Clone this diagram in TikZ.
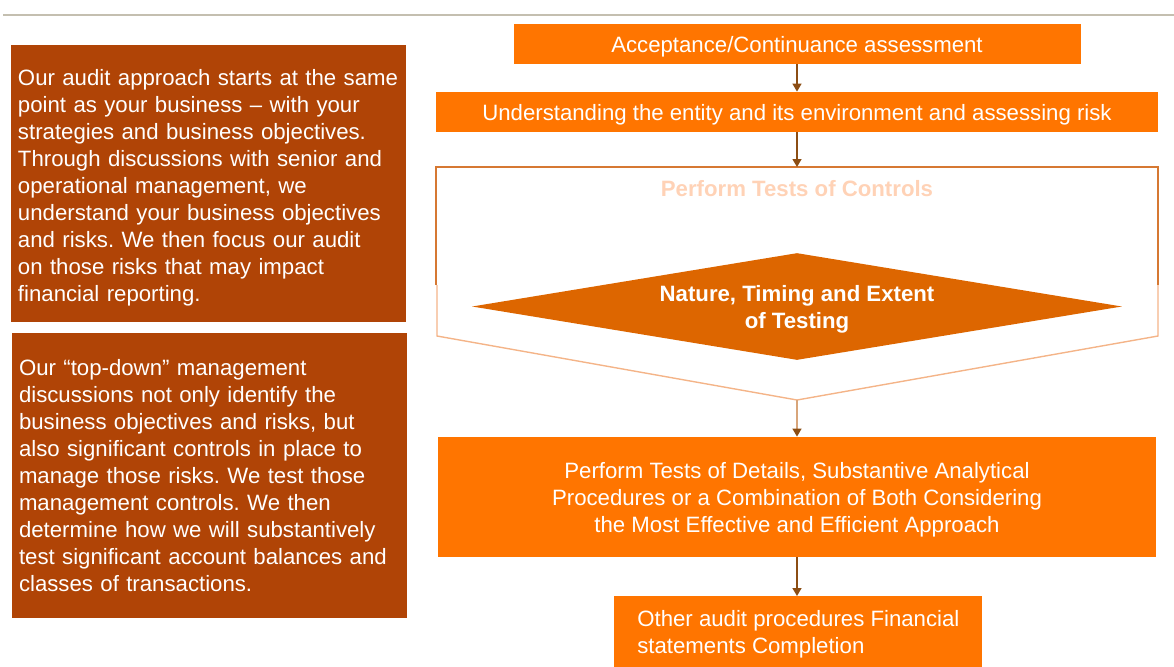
\documentclass[tikz,border=0pt]{standalone}
\usepackage{fontspec}
\setmainfont{Liberation Sans}
\usetikzlibrary{
    arrows.meta,
    shapes.geometric,
    positioning
}
\definecolor{stageOrange}{RGB}{255,117,0}
\definecolor{remarkBrown}{RGB}{176,68,6}
\definecolor{testOrange}{RGB}{221,102,0}
\definecolor{ctrlPeach}{RGB}{255,210,182}
\definecolor{frameDark}{RGB}{214,120,50}
\definecolor{frameLight}{RGB}{244,180,136}
\definecolor{flowBrown}{RGB}{140,78,20}
\definecolor{flowPale}{RGB}{216,165,122}
\definecolor{ruleGray}{RGB}{196,191,176}
\frenchspacing

\begin{document}
\begin{tikzpicture}[x=0.5pt, y=-0.5pt]
    \def\txt{\fontsize{11.1}{13.5}\selectfont}
    \tikzset{
        stage/.style    = {fill=stageOrange, text=white, font=\txt, inner sep=0pt, text depth=0pt},
        remark/.style   = {fill=remarkBrown, text=white, font=\txt, align=left,
                           text width=190.5pt, inner xsep=3.5pt, inner ysep=0pt},
        flow/.style     = {draw=flowBrown, line width=0.7pt,
                           -{Triangle[width=4.5pt,length=4pt]}},
        flowpale/.style = {flow, draw=flowPale,
                           -{Triangle[width=4.5pt,length=4pt,color=flowBrown]}}
    }
    \useasboundingbox (0,0) rectangle (1174,666);

    % rule at the top
    \draw[ruleGray, line width=1pt] (3,14.5) -- (1174,14.5);

    % left column
    \node[remark, minimum height=138.5pt] (approach) at (208.5,183.5)
        {\rule{0pt}{12pt}Our audit approach starts at the same\\
         point as your business -- with your\\
         strategies and business objectives.\\
         Through discussions with senior and\\
         operational management, we\\
         understand your business objectives\\
         and risks. We then focus our audit\\
         on those risks that may impact\\
         financial reporting.};
    \node[remark, minimum height=142.5pt] (topdown) at (209.5,475.5)
        {Our “top-down” management\\
         discussions not only identify the\\
         business objectives and risks, but\\
         also significant controls in place to\\
         manage those risks. We test those\\
         management controls. We then\\
         determine how we will substantively\\
         test significant account balances and\\
         classes of transactions.};

    % right column
    \node[stage, minimum width=283.5pt, minimum height=20pt] (accept) at (797,44)
        {Acceptance/Continuance assessment};
    \node[stage, minimum width=361pt, minimum height=20pt] (understand) at (797,112)
        {Understanding the entity and its environment and assessing risk};

    % tests of controls funnel
    \coordinate (ctop) at (797,167);
    \coordinate (tip)  at (797,400);
    \draw[frameDark, line width=0.6pt]  (436,285) -- (436,167) -- (1158,167) -- (1158,285);
    \draw[frameLight, line width=0.7pt] (437,285) -- (437,336) -- (tip) -- (1158,336) -- (1158,285);
    \node[font=\txt\bfseries, text=ctrlPeach] (controls) at (797,189)
        {Perform Tests of Controls};
    \node[diamond, aspect=6, fill=testOrange, text=white, font=\txt\bfseries,
          align=center, minimum width=325pt, minimum height=53.5pt, inner sep=0pt,
          text depth=0pt] (nature) at (797,306.5) {Nature, Timing and Extent\\of Testing};

    \node[stage, align=center, minimum width=359pt, minimum height=60pt] (substantive) at (797,497)
        {Perform Tests of Details, Substantive Analytical\\
         Procedures or a Combination of Both Considering\\
         the Most Effective and Efficient Approach};
    \node[stage, align=left, anchor=north west, minimum width=184pt,
          inner ysep=7pt] (other) at (614,596)
        {Other audit procedures Financial\\statements Completion};

    % connectors
    \draw[flow]     (accept) -- (understand);
    \draw[flow]     (understand) -- (ctop);
    \draw[flowpale] (tip) -- (substantive);
    \draw[flow]     (substantive.south) -- (substantive.south |- other.north);
\end{tikzpicture}
\end{document}
